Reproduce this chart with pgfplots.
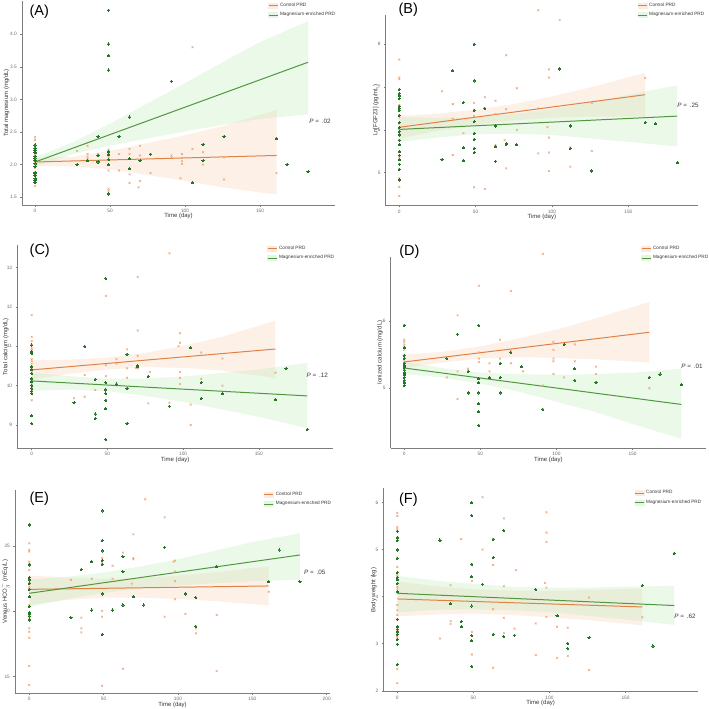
\documentclass[border=0pt]{standalone}
\usepackage{pgfplots}
\pgfplotsset{compat=1.18}
\usepackage{fontspec}
\setmainfont{Liberation Sans}
\definecolor{ctrlline}{RGB}{224,130,70}
\definecolor{ctrlpt}{RGB}{238,165,118}
\definecolor{cbandcol}{RGB}{248,196,160}
\definecolor{mgline}{RGB}{82,150,66}
\definecolor{mgpt}{RGB}{34,118,38}
\definecolor{mbandcol}{RGB}{188,234,182}
\definecolor{axgray}{RGB}{125,125,125}
\definecolor{tickgray}{RGB}{110,110,110}
\definecolor{labgray}{RGB}{55,55,55}
\tikzset{
  plab/.style={anchor=west, font=\fontsize{14.5}{14.5}\selectfont, text=black},
  pval/.style={font=\fontsize{6.3}{7}\selectfont, text=labgray},
}
\pgfplotsset{
  panel/.style={scale only axis, anchor=south west,
    axis x line*=bottom, axis y line*=left,
    axis line style={draw=axgray, line width=0.9pt, -},
    tick style={draw=axgray, line width=0.5pt},
    major tick length=1.6pt, tick align=outside,
    ticklabel style={font=\fontsize{4.8}{5}\selectfont, text=tickgray},
    xticklabel style={yshift=1pt},
    /pgf/number format/assume math mode=true,
    label style={font=\fontsize{6}{7}\selectfont, text=labgray},
    xlabel={Time (day)},
    xlabel style={yshift=5.8pt},
    clip=false,
    legend cell align=left,
    legend style={draw=none, fill=none, anchor=north west,
      font=\fontsize{4.7}{5}\selectfont, text=labgray, row sep=0.4pt, inner sep=0pt},
  },
  ylab/.style={ylabel style={at={(axis description cs:#1,0.5)}, anchor=center}},
  cband/.style={fill=cbandcol, fill opacity=0.25, draw=none, forget plot},
  mband/.style={fill=mbandcol, fill opacity=0.3, draw=none, forget plot},
  ctrlpts/.style={only marks, mark=x, mark size=1.25pt, mark options={line width=0.55pt}, color=ctrlpt, forget plot},
  mgpts/.style={only marks, mark=*, mark size=1.1pt, color=mgpt, mark options={fill=mgpt, draw=mgpt, line width=0pt}, forget plot},
  ctrlln/.style={color=ctrlline, line width=1pt, no marks, forget plot},
  mgln/.style={color=mgline, line width=1pt, no marks, forget plot},
  ctrlleg/.style={legend image code/.code={\fill[cbandcol!35] (0pt,-2.5pt) rectangle (9pt,2.5pt); \draw[ctrlline, line width=0.8pt] (0pt,0pt) -- (9pt,0pt);}},
  mgleg/.style={legend image code/.code={\fill[mbandcol!40] (0pt,-2.5pt) rectangle (9pt,2.5pt); \draw[mgline, line width=0.8pt] (0pt,0pt) -- (9pt,0pt);}},
}
\begin{document}
\begin{tikzpicture}
\path[use as bounding box] (0,0) rectangle (709pt,709pt);

% ---------------- (A)
\begin{axis}[panel, at={(22pt,504pt)}, width=313pt, height=204pt,
  xmin=-8.7, xmax=200, ymin=1.38, ymax=4.51,
  xtick={0,50,100,150}, ytick={1.5,2,2.5,3,3.5,4},
  yticklabel style={/pgf/number format/.cd, fixed, fixed zerofill, precision=1},
  ylabel={Total magnesium (mg/dL)}, ylab=-0.049,
  legend style={at={(0.786,1.0)}}]
\addlegendimage{ctrlleg}\addlegendentry{Control PRD}
\addlegendimage{mgleg}\addlegendentry{Magnesium-enriched PRD}
\addplot[cband] coordinates {(0,1.98)(25,1.97)(50,1.93)(75,1.84)(100,1.75)(125,1.65)(161,1.54)(161,2.84)(125,2.59)(100,2.45)(75,2.33)(50,2.21)(25,2.12)(0,2.10)};
\addplot[mband] coordinates {(0,1.97)(25,2.16)(50,2.29)(75,2.40)(100,2.51)(125,2.61)(150,2.70)(182,2.77)(182,4.20)(150,3.88)(125,3.57)(100,3.25)(75,2.94)(50,2.63)(25,2.34)(0,2.11)};
\addplot[ctrlpts] coordinates {(0,2.42)(0,2.38)(0,2.28)(0,2.15)(0,2.03)(0,1.95)(0,1.83)(0,1.74)(0,1.67)
(28,2.21)(35,2.29)(35,2.16)(35,2.12)(35,2.09)(42,2.16)(49,2.23)(49,2.16)(49,2.12)(49,1.91)(49,1.63)(49,1.60)(56,2.16)(56,1.91)(63,2.24)(63,2.16)(63,1.85)(63,1.72)(70,2.29)(70,2.14)(70,1.75)(69,1.65)(77,2.16)(77,1.87)(91,2.14)(91,2.11)(98,2.16)(98,2.10)(98,2.05)(98,2.01)(97,1.79)(105,3.80)(105,2.24)(112,2.19)(112,2.00)(126,2.11)(126,1.77)(161,1.87)};
\addplot[mgpts] coordinates {(0,2.30)(0,2.25)(0,2.22)(0,2.18)(0,2.13)(0,2.10)(0,2.06)(0,2.01)(0,1.97)(0,1.88)(0,1.86)(0,1.83)(0,1.78)(0,1.76)(0,1.72)
(49,4.37)(49,3.85)(49,3.67)(49,3.45)(49,2.20)(49,2.15)(49,2.08)(49,2.00)(49,1.55)
(28,2.00)(35,2.06)(42,2.43)(42,2.14)(42,2.04)(56,2.43)(63,2.73)(63,2.09)(63,1.94)(70,2.06)(77,2.16)(91,3.28)(105,1.72)(112,2.31)(112,2.06)(126,2.43)(161,2.40)(168,2.00)(182,1.89)};
\addplot[ctrlln] coordinates {(0,2.04)(161,2.14)};
\addplot[mgln] coordinates {(0,2.04)(182,3.57)};
\node[plab] at (rel axis cs:0.013,0.946) {(A)};
\node[pval] at (axis cs:190,2.66) {\textit{P} =\, .02};
\end{axis}

% ---------------- (B)
\begin{axis}[panel, at={(385.7pt,503.3pt)}, width=312.3pt, height=190.7pt,
  xmin=-8.9, xmax=195.6, ymin=4.23, ymax=8.68,
  xtick={0,50,100,150}, ytick={5,6,7,8},
  ylabel={Ln[FGF23] (pg/mL)}, ylab=-0.032,
  legend style={at={(0.805,1.073)}}]
\addlegendimage{ctrlleg}\addlegendentry{Control PRD}
\addlegendimage{mgleg}\addlegendentry{Magnesium-enriched PRD}
\addplot[cband] coordinates {(0,5.80)(25,5.98)(50,6.12)(75,6.22)(100,6.28)(125,6.31)(161,6.31)(161,7.33)(125,6.99)(100,6.78)(75,6.60)(50,6.47)(25,6.38)(0,6.32)};
\addplot[mband] coordinates {(0,5.72)(25,5.82)(50,5.90)(75,5.91)(100,5.88)(125,5.80)(150,5.72)(182,5.61)(182,7.04)(150,6.82)(125,6.64)(100,6.48)(75,6.37)(50,6.29)(25,6.28)(0,6.30)};
\addplot[ctrlpts] coordinates {(0,7.64)(0,7.22)(0,7.18)(0,6.58)(0,6.52)(0,6.29)(0,6.15)(0,6.03)(0,5.88)(0,5.75)(0,5.49)(0,5.37)(0,4.87)(0,4.83)(0,4.67)(0,4.46)
(28,6.90)(35,6.60)(35,6.26)(35,5.41)(42,5.92)(49,6.63)(49,6.32)(49,4.66)(56,6.76)(56,4.62)(63,6.68)(63,6.37)(63,5.65)(70,7.74)(70,6.48)(70,5.10)(69,5.76)(77,6.97)(77,6.00)(91,8.79)(91,6.50)(91,5.45)(98,7.41)(98,7.22)(98,5.82)(98,5.47)(98,5.04)(97,6.06)(105,8.56)(112,5.59)(112,5.14)(126,6.63)(126,5.51)(161,7.21)};
\addplot[mgpts] coordinates {(0,6.94)(0,6.85)(0,6.79)(0,6.73)(0,6.55)(0,6.50)(0,6.45)(0,6.34)(0,6.17)(0,6.06)(0,5.96)(0,5.88)(0,5.76)(0,5.65)(0,5.49)(0,5.41)(0,5.30)(0,5.20)(0,5.08)(0,4.83)
(28,5.31)(35,7.38)(42,6.64)(42,5.58)(42,5.28)(49,8.00)(49,7.14)(49,6.46)(49,6.19)(49,5.92)(49,5.78)(49,5.57)(49,5.47)(56,6.50)(63,6.09)(63,5.61)(63,5.27)(70,5.68)(70,5.66)(77,5.65)(105,7.42)(112,6.09)(112,5.57)(126,5.04)(161,6.17)(168,6.14)(182,5.23)};
\addplot[ctrlln] coordinates {(0,6.06)(161,6.82)};
\addplot[mgln] coordinates {(0,6.01)(182,6.32)};
\node[plab] at (rel axis cs:0.03,1.026) {(B)};
\node[pval] at (axis cs:189,6.58) {\textit{P} =\, .25};
\end{axis}

% ---------------- (C)
\begin{axis}[panel, at={(17.3pt,260.7pt)}, width=315.7pt, height=203.3pt,
  xmin=-9.5, xmax=199, ymin=8.41, ymax=13.57,
  xtick={0,50,100,150}, ytick={9,10,11,12,13},
  ylabel={Total calcium (mg/dL)}, ylab=-0.036,
  legend style={at={(0.791,1.005)}}]
\addlegendimage{ctrlleg}\addlegendentry{Control PRD}
\addlegendimage{mgleg}\addlegendentry{Magnesium-enriched PRD}
\addplot[cband] coordinates {(0,10.16)(25,10.30)(50,10.41)(75,10.47)(100,10.45)(125,10.39)(161,10.19)(161,11.65)(125,11.23)(100,11.01)(75,10.83)(50,10.71)(25,10.66)(0,10.64)};
\addplot[mband] coordinates {(0,9.87)(25,9.90)(50,9.86)(75,9.74)(100,9.59)(125,9.40)(150,9.21)(182,8.92)(182,10.58)(150,10.41)(125,10.32)(100,10.23)(75,10.18)(50,10.18)(25,10.24)(0,10.33)};
\addplot[ctrlpts] coordinates {(0,11.79)(0,11.24)(0,11.13)(0,11.03)(0,10.95)(0,10.90)(0,10.67)(0,10.62)(0,10.56)(0,10.44)(0,10.34)(0,10.18)(0,10.06)(0,9.93)(0,9.85)(0,9.78)(0,9.63)
(28,9.68)(35,10.27)(35,9.72)(42,9.89)(49,12.28)(49,10.52)(49,10.24)(49,9.63)(56,10.67)(56,10.56)(63,10.92)(63,10.44)(63,10.20)(70,12.76)(70,11.40)(70,10.76)(70,10.44)(69,10.45)(78,10.35)(77,9.55)(91,13.36)(91,9.57)(98,11.33)(98,11.09)(98,10.35)(98,10.20)(98,10.04)(97,11.00)(105,9.52)(105,9.00)(112,10.84)(112,10.17)(126,10.69)(126,10.00)(161,10.33)};
\addplot[mgpts] coordinates {(0,11.03)(0,10.86)(0,10.82)(0,10.48)(0,10.40)(0,10.31)(0,10.17)(0,10.10)(0,10.01)(0,9.93)(0,9.86)(0,9.80)(0,9.24)(0,9.04)
(28,9.57)(35,11.00)(42,10.16)(42,9.28)(42,9.17)(49,12.72)(49,10.08)(49,9.89)(49,9.80)(49,9.63)(49,9.41)(49,8.64)(56,10.04)(63,10.80)(63,9.93)(63,9.04)(70,10.51)(70,10.48)(77,10.24)(91,9.48)(105,10.96)(112,10.08)(112,9.68)(126,9.80)(161,9.64)(168,10.44)(182,8.89)};
\addplot[ctrlln] coordinates {(0,10.40)(161,10.93)};
\addplot[mgln] coordinates {(0,10.12)(182,9.74)};
\node[plab] at (rel axis cs:0.028,0.972) {(C)};
\node[pval] at (axis cs:188.6,10.27) {\textit{P} =\, .12};
\end{axis}

% ---------------- (D)
\begin{axis}[panel, at={(390.7pt,260.7pt)}, width=315.3pt, height=191.6pt,
  xmin=-8.9, xmax=198.2, ymin=4.11, ymax=6.95,
  xtick={0,50,100,150}, ytick={5,6},
  ylabel={Ionized calcium (mg/dL)}, ylab=-0.034,
  legend style={at={(0.794,1.066)}}]
\addlegendimage{ctrlleg}\addlegendentry{Control PRD}
\addlegendimage{mgleg}\addlegendentry{Magnesium-enriched PRD}
\addplot[cband] coordinates {(0,5.30)(25,5.38)(50,5.44)(75,5.46)(100,5.45)(125,5.43)(161,5.38)(161,6.28)(125,6.03)(100,5.87)(75,5.74)(50,5.62)(25,5.54)(0,5.50)};
\addplot[mband] coordinates {(0,5.21)(25,5.16)(50,5.07)(75,4.95)(100,4.80)(125,4.65)(150,4.47)(182,4.25)(182,5.29)(150,5.23)(125,5.21)(100,5.20)(75,5.21)(50,5.23)(25,5.30)(0,5.39)};
\addplot[ctrlpts] coordinates {(0,5.93)(0,5.72)(0,5.69)(0,5.65)(0,5.62)(0,5.57)(0,5.44)(0,5.40)(0,5.37)(0,5.34)
(28,5.16)(35,6.08)(35,5.25)(35,4.84)(42,5.29)(49,6.52)(49,5.53)(49,5.44)(49,5.39)(56,5.37)(56,5.25)(63,5.72)(63,5.44)(70,6.44)(70,5.56)(70,5.37)(78,5.25)(91,6.99)(91,5.04)(98,5.69)(98,5.57)(98,5.44)(98,5.40)(98,5.21)(105,5.16)(112,5.65)(112,5.40)(126,5.32)(126,5.21)(161,5.00)};
\addplot[mgpts] coordinates {(0,5.93)(0,5.60)(0,5.49)(0,5.44)(0,5.37)(0,5.33)(0,5.31)(0,5.27)(0,5.23)(0,5.20)(0,5.16)(0,5.12)(0,5.08)(0,5.04)
(28,5.44)(35,5.80)(42,5.25)(42,4.93)(49,5.93)(49,5.14)(49,5.08)(49,4.93)(49,4.77)(49,4.65)(49,4.45)(56,5.16)(63,5.37)(63,5.16)(63,4.93)(70,5.53)(77,5.32)(91,4.69)(105,5.65)(112,5.29)(112,5.12)(126,5.09)(161,5.16)(168,5.21)(182,5.05)};
\addplot[ctrlln] coordinates {(0,5.39)(161,5.83)};
\addplot[mgln] coordinates {(0,5.30)(182,4.76)};
\node[plab] at (rel axis cs:0.016,1.026) {(D)};
\node[pval] at (axis cs:189,5.32) {\textit{P} =\, .01};
\end{axis}

% ---------------- (E)
\begin{axis}[panel, at={(15pt,15.7pt)}, width=315pt, height=203.3pt,
  xmin=-9.6, xmax=202.2, ymin=13.73, ymax=29.28,
  xtick={0,50,100,150,200}, ytick={15,20,25},
  ylabel={Venous HCO$_3^-$ (mEq/L)}, ylab=-0.031,
  legend style={at={(0.79,1.0)}}]
\addlegendimage{ctrlleg}\addlegendentry{Control PRD}
\addlegendimage{mgleg}\addlegendentry{Magnesium-enriched PRD}
\addplot[cband] coordinates {(0,20.50)(25,20.87)(50,21.04)(75,21.05)(100,20.94)(125,20.78)(161,20.44)(161,23.44)(125,22.98)(100,22.74)(75,22.55)(50,22.48)(25,22.57)(0,22.75)};
\addplot[mband] coordinates {(0,20.33)(25,20.93)(50,21.41)(75,21.74)(100,21.99)(125,22.14)(150,22.30)(182,22.42)(182,25.97)(150,25.30)(125,24.64)(100,23.99)(75,23.44)(50,22.97)(25,22.63)(0,22.43)};
\addplot[ctrlpts] coordinates {(0,25.20)(0,24.69)(0,24.57)(0,23.80)(0,23.60)(0,23.16)(0,22.53)(0,22.14)(0,21.89)(0,21.76)(0,20.48)(0,19.46)(0,18.70)(0,18.44)(0,17.98)(0,15.82)(0,14.36)
(28,22.40)(35,19.52)(35,18.70)(35,18.39)(42,22.50)(49,24.06)(49,23.88)(49,23.67)(49,20.03)(49,19.59)(49,14.31)(56,23.49)(56,22.50)(63,24.49)(63,15.61)(70,25.89)(70,24.06)(70,23.98)(69,22.12)(78,28.57)(91,27.19)(91,19.59)(97,23.80)(98,23.88)(98,23.04)(98,22.32)(98,20.92)(105,19.80)(112,18.70)(112,18.32)(126,19.72)(126,15.43)(161,21.50)};
\addplot[mgpts] coordinates {(0,26.61)(0,23.55)(0,22.60)(0,22.40)(0,22.14)(0,21.68)(0,21.12)(0,20.36)(0,19.90)(0,19.80)(0,19.64)(0,19.34)
(28,19.52)(35,23.21)(42,23.80)(42,20.10)(49,27.68)(49,25.41)(49,24.62)(49,23.88)(49,23.60)(49,21.33)(49,18.24)(56,20.10)(63,24.18)(63,23.04)(63,20.48)(70,21.12)(77,20.48)(91,24.90)(105,21.33)(112,21.05)(112,18.83)(126,23.42)(161,22.27)(168,24.69)(182,22.27)};
\addplot[ctrlln] coordinates {(0,21.68)(161,21.94)};
\addplot[mgln] coordinates {(0,21.38)(182,24.31)};
\node[plab] at (rel axis cs:0.035,0.955) {(E)};
\node[pval] at (axis cs:192,22.98) {\textit{P} =\, .05};
\end{axis}

% ---------------- (F)
\begin{axis}[panel, at={(383.3pt,17.3pt)}, width=314.7pt, height=203.4pt,
  xmin=-9.2, xmax=197.6, ymin=1.98, ymax=6.30,
  xtick={0,50,100,150}, ytick={2,3,4,5,6},
  ylabel={Body weight (kg)}, ylab=-0.030,
  legend style={at={(0.797,1.0)}}]
\addlegendimage{ctrlleg}\addlegendentry{Control PRD}
\addlegendimage{mgleg}\addlegendentry{Magnesium-enriched PRD}
\addplot[cband] coordinates {(0,3.58)(25,3.62)(50,3.64)(75,3.61)(100,3.56)(125,3.50)(161,3.39)(161,4.17)(125,4.14)(100,4.12)(75,4.13)(50,4.16)(25,4.22)(0,4.32)};
\addplot[mband] coordinates {(0,3.66)(25,3.72)(50,3.73)(75,3.71)(100,3.67)(125,3.59)(150,3.51)(182,3.40)(182,4.23)(150,4.21)(125,4.19)(100,4.19)(75,4.21)(50,4.27)(25,4.34)(0,4.44)};
\addplot[ctrlpts] coordinates {(0,5.78)(0,5.71)(0,5.48)(0,5.43)(0,4.83)(0,4.63)(0,4.46)(0,4.39)(0,4.21)(0,4.17)(0,4.10)(0,3.82)(0,3.71)(0,3.61)(0,3.50)(0,3.36)(0,3.27)(0,3.16)(0,3.13)(0,2.46)(0,2.16)
(28,3.11)(35,4.24)(35,3.48)(35,3.42)(42,5.22)(49,4.33)(49,3.25)(49,2.77)(56,6.11)(56,5.00)(63,4.67)(63,3.73)(63,2.49)(70,5.66)(70,4.22)(70,3.55)(70,3.23)(78,4.56)(77,3.32)(91,3.43)(91,2.76)(98,5.79)(98,5.36)(98,5.16)(98,4.19)(98,3.57)(97,4.29)(105,3.36)(105,2.70)(112,3.34)(112,2.74)(126,3.98)(126,2.44)(161,3.56)};
\addplot[mgpts] coordinates {(0,5.39)(0,5.25)(0,5.19)(0,4.99)(0,4.81)(0,4.51)(0,4.41)(0,4.36)(0,4.28)(0,4.10)(0,3.52)(0,3.36)(0,3.31)(0,3.25)(0,3.20)(0,3.09)(0,2.99)(0,2.56)
(28,5.20)(35,3.85)(42,3.47)(42,3.36)(49,5.99)(49,5.72)(49,4.69)(49,4.42)(49,3.80)(49,3.17)(49,3.06)(49,2.52)(56,4.26)(63,5.22)(63,4.83)(63,3.20)(70,5.40)(70,3.15)(77,3.18)(91,4.15)(105,3.59)(112,3.01)(112,2.90)(126,3.13)(161,4.24)(168,2.95)(182,4.92)};
\addplot[ctrlln] coordinates {(0,3.95)(161,3.78)};
\addplot[mgln] coordinates {(0,4.07)(182,3.81)};
\node[plab] at (rel axis cs:0.039,0.946) {(F)};
\node[pval] at (axis cs:189,3.59) {\textit{P} =\, .62};
\end{axis}
\end{tikzpicture}
\end{document}
